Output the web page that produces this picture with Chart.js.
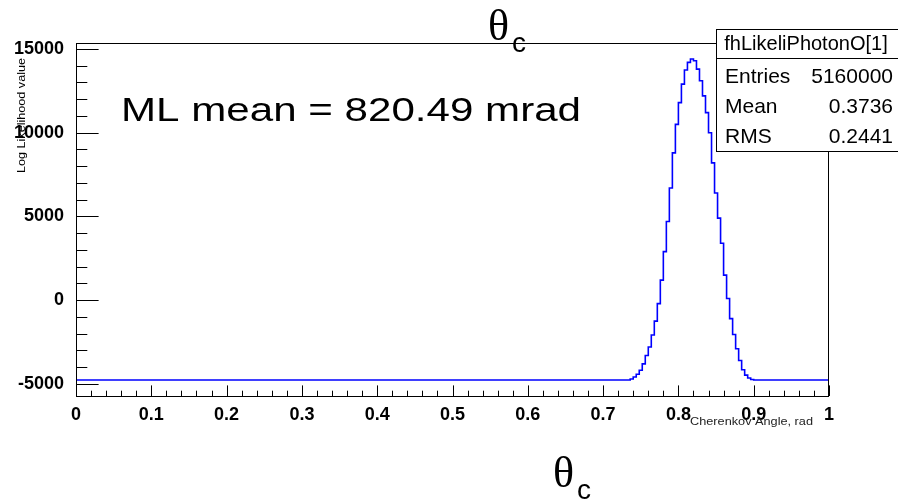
<!DOCTYPE html>
<html>
<head>
<meta charset="utf-8">
<script src="https://cdn.jsdelivr.net/npm/chart.js@4.4.0/dist/chart.umd.min.js"></script>
<style>
  html, body { margin: 0; padding: 0; background: #fff; }
</style>
</head>
<body>
<canvas id="likeliChart" width="898" height="504"></canvas>
<script>
// histogram: left bin edges (rad) and log likelihood per bin
const angles = [0,
  0.736, 0.740, 0.744, 0.748, 0.752, 0.756, 0.760, 0.764, 0.768, 0.772,
  0.776, 0.780, 0.784, 0.788, 0.792, 0.796, 0.800, 0.804, 0.808, 0.812,
  0.816, 0.820, 0.824, 0.828, 0.832, 0.836, 0.840, 0.844, 0.848, 0.852,
  0.856, 0.860, 0.864, 0.868, 0.872, 0.876, 0.880, 0.884, 0.888, 0.892,
  0.896, 0.900, 1.0];
const logL = [-4760,
  -4700, -4580, -4420, -4180, -3800, -3300, -2790, -2080, -1250, -200,
  1200, 2900, 4700, 6700, 8800, 10500, 11800, 12900, 13750, 14200,
  14400, 14300, 13800, 13100, 12200, 11200, 10000, 8200, 6400, 4900,
  3400, 1500, 100, -1100, -2050, -2900, -3600, -4150, -4470, -4640,
  -4730, -4760, -4760];

const xTicks = [0, 0.1, 0.2, 0.3, 0.4, 0.5, 0.6, 0.7, 0.8, 0.9, 1];
const yTicks = [-5000, 0, 5000, 10000, 15000];
const xMinorStep = 0.02;
const yMinorStep = 1000;

const statsTitle = 'fhLikeliPhotonO[1]';
const statsNames = ['Entries', 'Mean', 'RMS'];
const statsValues = ['5160000', '0.3736', '0.2441'];

const SANS = '"Liberation Sans", Arial, sans-serif';
const SERIF = '"Liberation Serif", "Times New Roman", serif';

// draw text squeezed/stretched to a given width (ROOT picture is a bit stretched)
function fitText(ctx, txt, x, y, width, font, rot) {
  ctx.save();
  ctx.font = font;
  const w = ctx.measureText(txt).width;
  ctx.translate(x, y);
  if (rot) ctx.rotate(rot);
  ctx.scale(width / w, 1);
  ctx.textAlign = 'left';
  ctx.textBaseline = 'alphabetic';
  ctx.fillText(txt, 0, 0);
  ctx.restore();
}

const rootFrame = {
  id: 'rootFrame',
  afterDraw(chart) {
    const { ctx, chartArea: a, scales: { x, y } } = chart;
    ctx.save();
    ctx.strokeStyle = '#000';
    ctx.fillStyle = '#000';
    ctx.lineWidth = 1;

    // frame
    ctx.strokeRect(a.left + 0.5, a.top + 0.5, a.right - a.left - 1, a.bottom - a.top);

    // y ticks, inside the frame
    ctx.beginPath();
    for (let v = -5000; v <= 15000; v += yMinorStep) {
      const py = Math.round(y.getPixelForValue(v)) + 0.5;
      const len = yTicks.includes(v) ? 22.6 : 11.3;
      ctx.moveTo(a.left, py);
      ctx.lineTo(a.left + len, py);
    }
    // x ticks
    for (let i = 0; i <= 50; i++) {
      const v = i * xMinorStep;
      const px = Math.round(x.getPixelForValue(v)) + 0.5;
      const len = i % 5 === 0 ? 10.6 : 5.3;
      ctx.moveTo(px, a.bottom);
      ctx.lineTo(px, a.bottom - len);
    }
    ctx.stroke();

    // axis titles
    fitText(ctx, 'Log Likelihood value', 25, 173, 115, '10px ' + SANS, -Math.PI / 2);
    ctx.fillStyle = '#222';
    fitText(ctx, 'Cherenkov Angle, rad', 690, 425, 123, '10px ' + SANS);
    ctx.fillStyle = '#000';

    // stats box
    ctx.fillStyle = '#fff';
    ctx.fillRect(716, 29, 190, 123);
    ctx.strokeRect(716.5, 29.5, 190, 122);
    ctx.beginPath();
    ctx.moveTo(716, 58.5);
    ctx.lineTo(898, 58.5);
    ctx.stroke();
    ctx.fillStyle = '#000';
    ctx.font = '20px ' + SANS;
    ctx.textAlign = 'center';
    ctx.textBaseline = 'alphabetic';
    ctx.fillText(statsTitle, 806, 50);
    ctx.font = '21px ' + SANS;
    statsNames.forEach((name, i) => {
      const by = 83 + i * 30;
      ctx.textAlign = 'left';
      ctx.fillText(name, 725, by);
      ctx.textAlign = 'right';
      ctx.fillText(statsValues[i], 893, by);
    });

    // annotations
    fitText(ctx, 'ML mean = 820.49 mrad', 121, 121, 460, '34px ' + SANS);
    ctx.textAlign = 'left';
    ctx.font = '44px ' + SERIF;
    ctx.fillText('\u03b8', 488, 40);
    ctx.fillText('\u03b8', 553, 487);
    ctx.font = '28px ' + SANS;
    ctx.fillText('c', 512, 52);
    ctx.fillText('c', 577, 499);
    ctx.restore();
  }
};

const tickFont = { family: SANS, size: 18, weight: 'bold' };

new Chart(document.getElementById('likeliChart').getContext('2d'), {
  type: 'line',
  data: {
    datasets: [{
      data: angles.map((a, i) => ({ x: a, y: logL[i] })),
      borderColor: '#0000ff',
      borderWidth: 1.6,
      stepped: true,
      pointRadius: 0,
      fill: false
    }]
  },
  options: {
    responsive: false,
    animation: false,
    layout: { padding: { top: 43, right: 69, left: 0, bottom: 0 } },
    plugins: { legend: { display: false }, tooltip: { enabled: false } },
    scales: {
      x: {
        type: 'linear', min: 0, max: 1,
        afterBuildTicks: s => { s.ticks = xTicks.map(v => ({ value: v })); },
        afterFit: s => { s.height = 108; },
        grid: { display: false },
        border: { display: false },
        ticks: { font: tickFont, color: '#000', padding: 0, maxRotation: 0, autoSkip: false, callback: v => String(v) }
      },
      y: {
        type: 'linear', min: -5718, max: 15358,
        afterBuildTicks: s => { s.ticks = yTicks.map(v => ({ value: v })); },
        afterFit: s => { s.width = 76; },
        grid: { display: false },
        border: { display: false },
        ticks: { font: tickFont, color: '#000', padding: 4, autoSkip: false, callback: v => String(v) }
      }
    }
  },
  plugins: [rootFrame]
});
</script>
</body>
</html>
